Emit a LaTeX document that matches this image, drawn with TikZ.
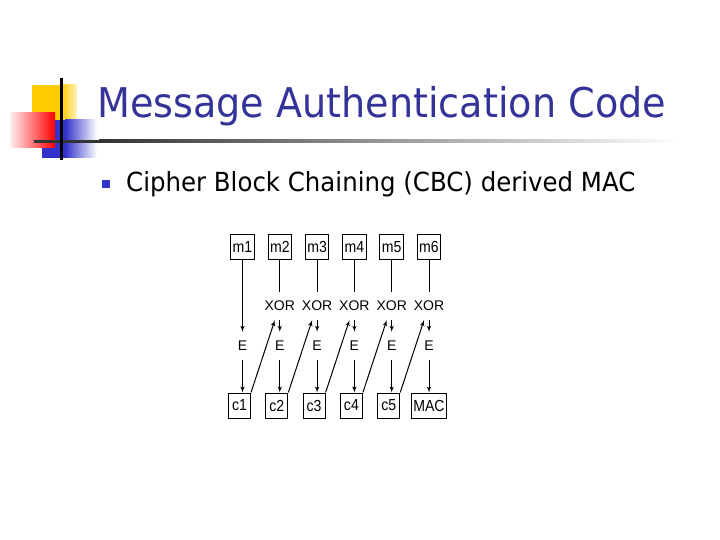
\documentclass[tikz,border=0pt]{standalone}
\usepackage{fontspec}
\setmainfont{Liberation Sans}
\newfontfamily\titlefont[FakeStretch=0.93]{DejaVu Sans}
\newfontfamily\boxfont[FakeStretch=0.88]{Liberation Sans}
\usepackage{tikz}
\usetikzlibrary{shapes, arrows}
\definecolor{titleblue}{HTML}{333399}
\definecolor{bulletblue}{HTML}{3333CC}
\definecolor{logoyellow}{HTML}{FFCC00}
\tikzstyle{block} = [draw, rectangle, minimum height=22pt, inner sep=3pt]
\tikzstyle{op} = [inner sep=0pt, minimum height=26pt]

\begin{document}
\begin{tikzpicture}[x=1pt, y=-1pt, node distance=37.3pt, >=latex', font=\fontsize{14}{16}\selectfont]
        % 样式定义
        \tikzstyle{block} = [draw, rectangle, line width=1pt, minimum height=25pt, minimum width=22pt, inner xsep=2pt, inner ysep=0pt, font=\boxfont\fontsize{16}{18}\selectfont]
        \tikzstyle{op} = [inner sep=0pt, minimum height=28pt]
        \tikzstyle{link} = [line width=1pt]
        \useasboundingbox (0,0) rectangle (720,540);

        % 标志
        \fill [logoyellow] (32,85) rectangle (62,120);
        \shade [left color=logoyellow, right color=logoyellow!25] (61,85) rectangle (77,120);
        \fill [bulletblue] (42,120) rectangle (66,158);
        \shade [left color=bulletblue, right color=white] (65,120) rectangle (97,158);
        \shade [left color=red!6, right color=red] (10,113) rectangle (55,148);
        \fill [black!80] (34,140) rectangle (100,143);
        \shade [left color=black!80, right color=white] (99,140) rectangle (680,143);
        \draw [line width=3pt] (61,78) -- (61,160);

        % 标题
        \node [anchor=base west, inner sep=0pt, text=titleblue, font=\titlefont\fontsize{41}{49}\selectfont] (title) at (97,118) {Message Authentication Code};
        \node [fill=bulletblue, minimum size=8pt, inner sep=0pt] (bullet) at (106,184) {};
        \node [anchor=base west, inner sep=0pt, font=\titlefont\fontsize{26.3}{31}\selectfont] (subtitle) at (126,192) {Cipher Block Chaining (CBC) derived MAC};

        % 放置节点
        \node [block] (m1) at (242.5,247) {m1};
        \node [block, right of=m1] (m2) {m2};
        \node [block, right of=m2] (m3) {m3};
        \node [block, right of=m3] (m4) {m4};
        \node [block, right of=m4] (m5) {m5};
        \node [block, right of=m5] (m6) {m6};
        \node [op, node distance=59pt, below of=m2] (x2) {XOR};
        \node [op, node distance=59pt, below of=m3] (x3) {XOR};
        \node [op, node distance=59pt, below of=m4] (x4) {XOR};
        \node [op, node distance=59pt, below of=m5] (x5) {XOR};
        \node [op, node distance=59pt, below of=m6] (x6) {XOR};
        \node [op, node distance=99pt, below of=m1] (E1) {E};
        \node [op, node distance=99pt, below of=m2] (E2) {E};
        \node [op, node distance=99pt, below of=m3] (E3) {E};
        \node [op, node distance=99pt, below of=m4] (E4) {E};
        \node [op, node distance=99pt, below of=m5] (E5) {E};
        \node [op, node distance=99pt, below of=m6] (E6) {E};
        \node [block, node distance=59.5pt, below of=E1, xshift=-3pt] (c1) {c1};
        \node [block, node distance=59.5pt, below of=E2, xshift=-3pt] (c2) {c2};
        \node [block, node distance=59.5pt, below of=E3, xshift=-3pt] (c3) {c3};
        \node [block, node distance=59.5pt, below of=E4, xshift=-3pt] (c4) {c4};
        \node [block, node distance=59.5pt, below of=E5, xshift=-3pt] (c5) {c5};
        \node [block, node distance=59.5pt, below of=E6] (MAC) {MAC};

        \draw [link, ->] (m1) -- (E1);
        \draw [link] (m2) -- (x2);
        \draw [link] (m3) -- (x3);
        \draw [link] (m4) -- (x4);
        \draw [link] (m5) -- (x5);
        \draw [link] (m6) -- (x6);
        \draw [link, ->] (x2) -- (E2);
        \draw [link, ->] (x3) -- (E3);
        \draw [link, ->] (x4) -- (E4);
        \draw [link, ->] (x5) -- (E5);
        \draw [link, ->] (x6) -- (E6);
        \draw [link, ->] (E1) -- (E1 |- c1.north);
        \draw [link, ->] (E2) -- (E2 |- c2.north);
        \draw [link, ->] (E3) -- (E3 |- c3.north);
        \draw [link, ->] (E4) -- (E4 |- c4.north);
        \draw [link, ->] (E5) -- (E5 |- c5.north);
        \draw [link, ->] (E6) -- (MAC);
        % 链接到下一个 XOR
        \draw [link, ->] (c1.north east) -- ([xshift=-5pt]x2.south);
        \draw [link, ->] (c2.north east) -- ([xshift=-5pt]x3.south);
        \draw [link, ->] (c3.north east) -- ([xshift=-5pt]x4.south);
        \draw [link, ->] (c4.north east) -- ([xshift=-5pt]x5.south);
        \draw [link, ->] (c5.north east) -- ([xshift=-5pt]x6.south);
    \end{tikzpicture}
\end{document}
